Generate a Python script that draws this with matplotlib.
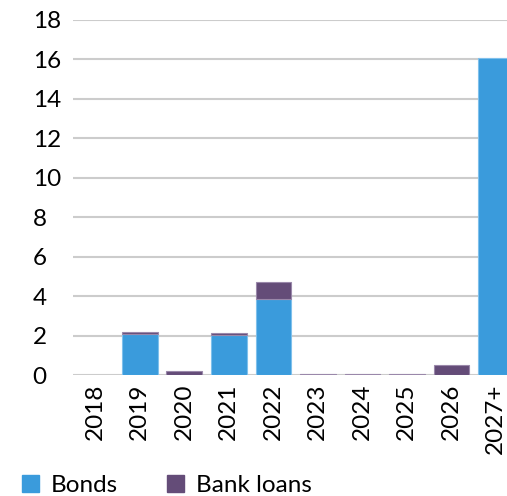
import numpy as np
import matplotlib
matplotlib.use("Agg")
from matplotlib import pyplot as plt
from matplotlib.patches import Patch

years = ["2018", "2019", "2020", "2021", "2022", "2023", "2024", "2025", "2026", "2027+"]
bonds = [0, 2.08, 0, 2.03, 3.86, 0, 0, 0, 0, 16.05]
bank_loans = [0, 0.1, 0.2, 0.1, 0.86, 0.03, 0.03, 0.03, 0.5, 0]

c_bonds = "#3a9bdc"
c_loans = "#644c78"

plt.rcParams['font.family'] = ['Lato', 'DejaVu Sans']

fig = plt.figure(figsize=(5.07, 4.96), dpi=100)
ax = fig.add_axes([73 / 507, (496 - 375) / 496, 1 - 73 / 507, 355 / 496])

x = np.arange(len(years))
# no outline on empty segments
lw_b = [0.8 if v > 0 else 0 for v in bonds]
lw_l = [0.8 if v > 0 else 0 for v in bank_loans]
ax.bar(x, bonds, width=0.8, color=c_bonds, edgecolor="#7fc0ec", linewidth=lw_b, zorder=3)
ax.bar(x, bank_loans, width=0.8, bottom=bonds, color=c_loans, edgecolor="#9a88aa",
       linewidth=lw_l, zorder=3)

ax.set_ylim(0, 18)
ax.set_xlim(-0.5, 9.25)
ax.set_yticks(range(0, 19, 2))
ax.set_xticks(x)
ax.set_xticklabels(years, rotation=90, fontsize=17.5)
ax.tick_params(axis="y", labelsize=17.5, length=0, pad=29)
ax.tick_params(axis="x", length=0, pad=6)
for lab in ax.get_yticklabels():
    lab.set_horizontalalignment("left")
ax.grid(axis="y", color="#cccccc", linewidth=1.5, zorder=0)
for s in ax.spines.values():
    s.set_visible(False)

handles = [Patch(color=c_bonds, label="Bonds"), Patch(color=c_loans, label="Bank loans")]
fig.legend(handles=handles, loc="lower left", bbox_to_anchor=(0.0, -0.045), ncol=2,
           frameon=False, fontsize=17.5, handlelength=0.7, handleheight=0.7,
           handletextpad=0.5, columnspacing=2.0)

fig.savefig("out.png", dpi=100)
